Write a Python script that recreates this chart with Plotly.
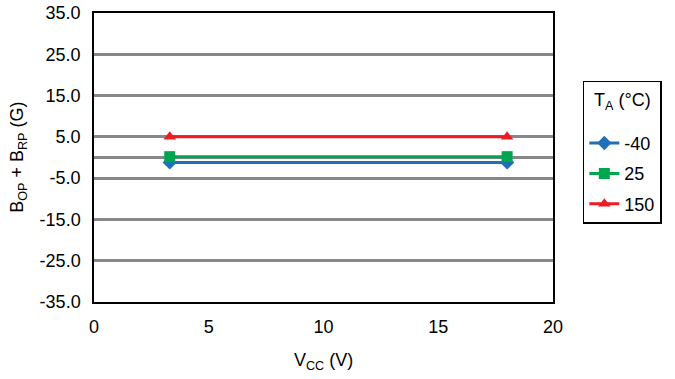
import plotly.graph_objects as go

vcc = [3.3, 18.0]
temps = ["-40", "25", "150"]
b_m40 = [-1.2, -1.2]
b_25 = [0.2, 0.2]
b_150 = [5.0, 5.0]
y_ticks = [35, 25, 15, 5, -5, -15, -25, -35]
x_ticks = [0, 5, 10, 15, 20]

colors = ["#1F70B8", "#00A550", "#EC1C24"]
symbols = ["diamond", "square", "triangle-up"]
series = [b_m40, b_25, b_150]

font = dict(family="Liberation Sans, Arial, sans-serif", size=18, color="#000")

fig = go.Figure()
for i, (name, ys, c, s) in enumerate(zip(temps, series, colors, symbols)):
    extra = {}
    if i == 0:
        extra["legendgrouptitle"] = dict(text=" ", font=dict(size=6))
    fig.add_trace(go.Scatter(
        x=vcc, y=ys, name=name, mode="lines+markers", legendgroup=name,
        line=dict(color=c, width=3),
        marker=dict(symbol=s, size=11, color=c),
        **extra,
    ))

fig.update_layout(
    width=675, height=379,
    margin=dict(l=94, r=122, t=13, b=77),
    paper_bgcolor="white", plot_bgcolor="white",
    font=font,
    showlegend=True,
    legend=dict(
        title=dict(text="T<sub>A</sub> (°C)", font=font, side="top center"),
        x=1.065, y=0.765, xanchor="left", yanchor="top",
        bordercolor="#000", borderwidth=1.5,
        bgcolor="white", font=font,
        tracegroupgap=4, entrywidth=60,
    ),
    xaxis=dict(
        range=[0, 20], tickvals=x_ticks, showgrid=False,
        showline=True, linecolor="#000", linewidth=1.5, mirror=True,
        ticks="outside", ticklen=8, tickcolor="rgba(0,0,0,0)", zeroline=False,
        automargin=False,
    ),
    yaxis=dict(
        range=[-35, 35], tickvals=y_ticks + [0],
        ticktext=[f"{v:.1f}" for v in y_ticks] + [""],
        showgrid=True, gridcolor="#888888", gridwidth=2.5,
        showline=True, linecolor="#000", linewidth=1.5, mirror=True,
        ticks="outside", ticklen=8, tickcolor="rgba(0,0,0,0)", zeroline=False,
        automargin=False,
    ),
    annotations=[
        dict(text="V<sub>CC</sub> (V)", xref="paper", yref="paper",
             x=0.5, y=-0.16, xanchor="center", yanchor="top",
             showarrow=False, font=font),
        dict(text="B<sub>OP</sub> + B<sub>RP</sub> (G)", xref="paper", yref="paper",
             x=-0.165, y=0.5, xanchor="center", yanchor="middle", textangle=-90,
             showarrow=False, font=font),
    ],
)
fig.write_html("out.html", config={"displayModeBar": False},
               post_script="document.body.style.margin='0';document.body.style.overflow='hidden';")
